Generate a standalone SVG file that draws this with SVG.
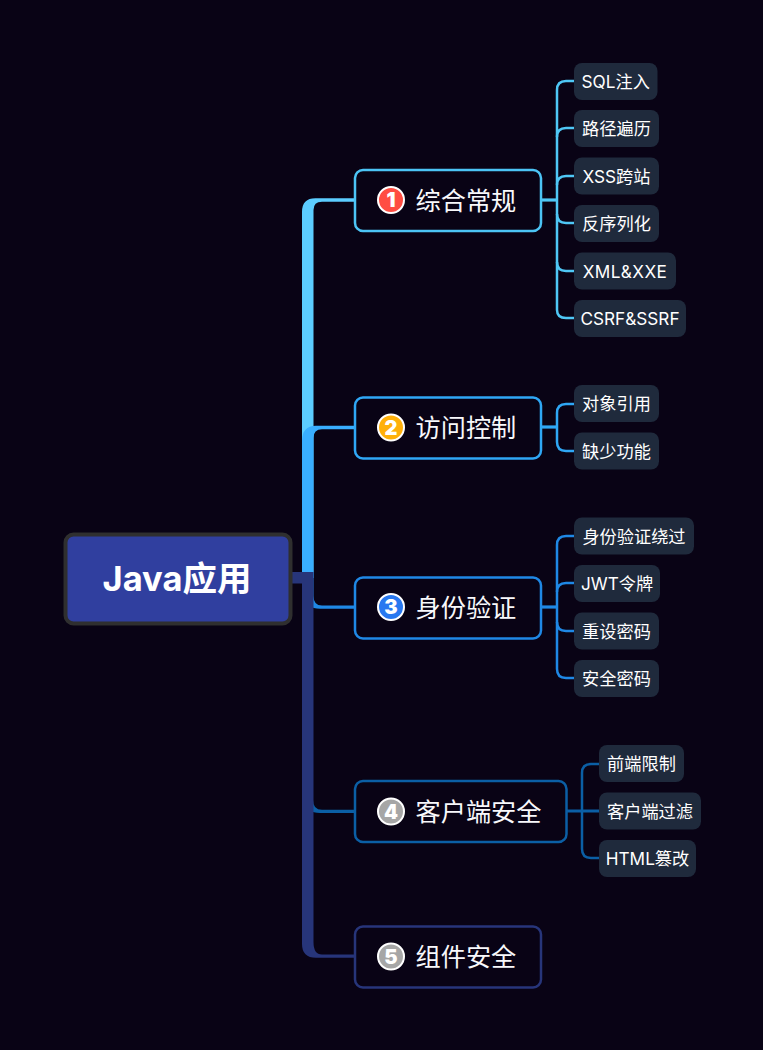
<svg xmlns="http://www.w3.org/2000/svg" width="763" height="1050" viewBox="0 0 763 1050">
<style>
text{font-family:"Inter","Noto Sans CJK SC",sans-serif;fill:#fff}
.t{font-size:25.200px;font-family:"Noto Sans CJK SC",sans-serif;fill:#f8f8fb;dominant-baseline:central}
.c{font-size:17.200px;font-weight:400;fill:#fff;dominant-baseline:central;text-anchor:middle}
.n{fill:#090315;stroke-width:2.500}
.b{fill:#1f2a3c}
.d{font-size:20px;font-weight:900;text-anchor:middle;dominant-baseline:central}
.i{stroke:#fff;stroke-width:2}
.l{fill:none;stroke-width:2.500}
.h{stroke-width:3.200}
</style>
<rect width="763" height="1050" fill="#090315"/>
<g id="connectors">
<path d="M302,578V212Q302,198 316,198.300H355V201.700H322Q313.500,201.700 313.500,210V578Z" fill="#5ccdff"/>
<path d="M302,578V441Q302,426 316,425.800H355V429.200H322Q313.500,429.200 313.500,438V578Z" fill="#39aeff"/>
<path d="M306,572H313.500V596Q313.500,605.500 322,605.500H355V608.800H320Q306,608.800 306,596Z" fill="#1f88e5"/>
<path d="M313,800Q313,809.800 322,809.800H355V813H320Q306,813 306,800Z" fill="#0b5fa5"/>
<path d="M292,572H313.500V942Q313.500,954.500 322,954.500H355V957.800H316Q302,957.800 302,944V583.500H292Z" fill="#27357a"/>
<g class="l" stroke="#4fc7f5">
<path class="h" d="M541,200H557"/>
<path d="M574,81H566Q557,81 557,90V310Q557,318 566,318H574"/>
<path d="M574,128H566Q557,128 557,137M574,176H566Q557,176 557,185M557,214Q557,223 566,223H574M557,262Q557,271 566,271H574"/>
</g>
<g class="l" stroke="#2fa7f5">
<path class="h" d="M541,427H557"/>
<path d="M574,404H566Q557,404 557,413V442Q557,451 566,451H574"/>
</g>
<g class="l" stroke="#1f88e5">
<path class="h" d="M541,607H557"/>
<path d="M574,536H566Q557,536 557,545V669Q557,678 566,678H574"/>
<path d="M574,583H566Q557,583 557,592M557,622Q557,631 566,631H574"/>
</g>
<g class="l" stroke="#0b5fa5">
<path class="h" d="M566,811H599"/>
<path d="M599,764H591Q582,764 582,773V849Q582,858 591,858H599"/>
</g>
</g>
<g id="root">
<rect x="65.500" y="534.500" width="225" height="89" rx="8" fill="#303f9f" stroke="#2f2f2f" stroke-width="4"/>
<text x="177" y="578" font-size="34.500" font-weight="700" text-anchor="middle" dominant-baseline="central">Java应用</text>
</g>
<g id="n1">
<rect class="n" x="355" y="170" width="186" height="61" rx="8" stroke="#4cc4f5"/>
<circle class="i" cx="391" cy="200" r="13" fill="#ff4d42"/><text class="d" x="391" y="200">1</text>
<text class="t" x="415.500" y="198.500">综合常规</text>
</g>
<g id="n2">
<rect class="n" x="355" y="397.500" width="186" height="61" rx="8" stroke="#2fa7f5"/>
<circle class="i" cx="391" cy="427.500" r="13" fill="#ffb00a"/><text class="d" x="391" y="427.500">2</text>
<text class="t" x="415.500" y="426">访问控制</text>
</g>
<g id="n3">
<rect class="n" x="355" y="577.500" width="186" height="61" rx="8" stroke="#1f88e5"/>
<circle class="i" cx="391" cy="607" r="13" fill="#2878f0"/><text class="d" x="391" y="607">3</text>
<text class="t" x="415.500" y="605.500">身份验证</text>
</g>
<g id="n4">
<rect class="n" x="355" y="781" width="211.500" height="61" rx="8" stroke="#0b5fa5"/>
<circle class="i" cx="391" cy="811.500" r="13" fill="#a6a6a6"/><text class="d" x="391" y="811.500">4</text>
<text class="t" x="415.500" y="810">客户端安全</text>
</g>
<g id="n5">
<rect class="n" x="355" y="926.500" width="186" height="61" rx="8" stroke="#27357a"/>
<circle class="i" cx="391" cy="956.500" r="13" fill="#a6a6a6"/><text class="d" x="391" y="956.500">5</text>
<text class="t" x="415.500" y="955">组件安全</text>
</g>
<g id="c11"><rect class="b" x="574" y="63" width="83.500" height="37" rx="8"/><text class="c" x="615.700" y="81.500">SQL注入</text></g>
<g id="c12"><rect class="b" x="574" y="110" width="85" height="37" rx="8"/><text class="c" x="616.500" y="128.500">路径遍历</text></g>
<g id="c13"><rect class="b" x="574" y="157.500" width="85" height="37" rx="8"/><text class="c" x="616.500" y="176">XSS跨站</text></g>
<g id="c14"><rect class="b" x="574" y="205" width="85" height="37" rx="8"/><text class="c" x="616.500" y="223.500">反序列化</text></g>
<g id="c15"><rect class="b" x="574" y="252.500" width="102" height="37" rx="8"/><text class="c" x="625" y="271" letter-spacing=".4">XML&amp;XXE</text></g>
<g id="c16"><rect class="b" x="574" y="300" width="112" height="37" rx="8"/><text class="c" x="630" y="318.500">CSRF&amp;SSRF</text></g>
<g id="c21"><rect class="b" x="574" y="385" width="85" height="37" rx="8"/><text class="c" x="616.500" y="403.500">对象引用</text></g>
<g id="c22"><rect class="b" x="574" y="432.500" width="85" height="37" rx="8"/><text class="c" x="616.500" y="451">缺少功能</text></g>
<g id="c31"><rect class="b" x="574" y="517.500" width="120" height="37" rx="8"/><text class="c" x="634" y="536">身份验证绕过</text></g>
<g id="c32"><rect class="b" x="574" y="565" width="86" height="37" rx="8"/><text class="c" x="617" y="583.500">JWT令牌</text></g>
<g id="c33"><rect class="b" x="574" y="612.500" width="85" height="37" rx="8"/><text class="c" x="616.500" y="631">重设密码</text></g>
<g id="c34"><rect class="b" x="574" y="660" width="85" height="37" rx="8"/><text class="c" x="616.500" y="678.500">安全密码</text></g>
<g id="c41"><rect class="b" x="599" y="745" width="85" height="37" rx="8"/><text class="c" x="641.500" y="763.500">前端限制</text></g>
<g id="c42"><rect class="b" x="599" y="792.500" width="102" height="37" rx="8"/><text class="c" x="650" y="811">客户端过滤</text></g>
<g id="c43"><rect class="b" x="599" y="840" width="97" height="37" rx="8"/><text class="c" x="647.500" y="858.500">HTML篡改</text></g>
</svg>
